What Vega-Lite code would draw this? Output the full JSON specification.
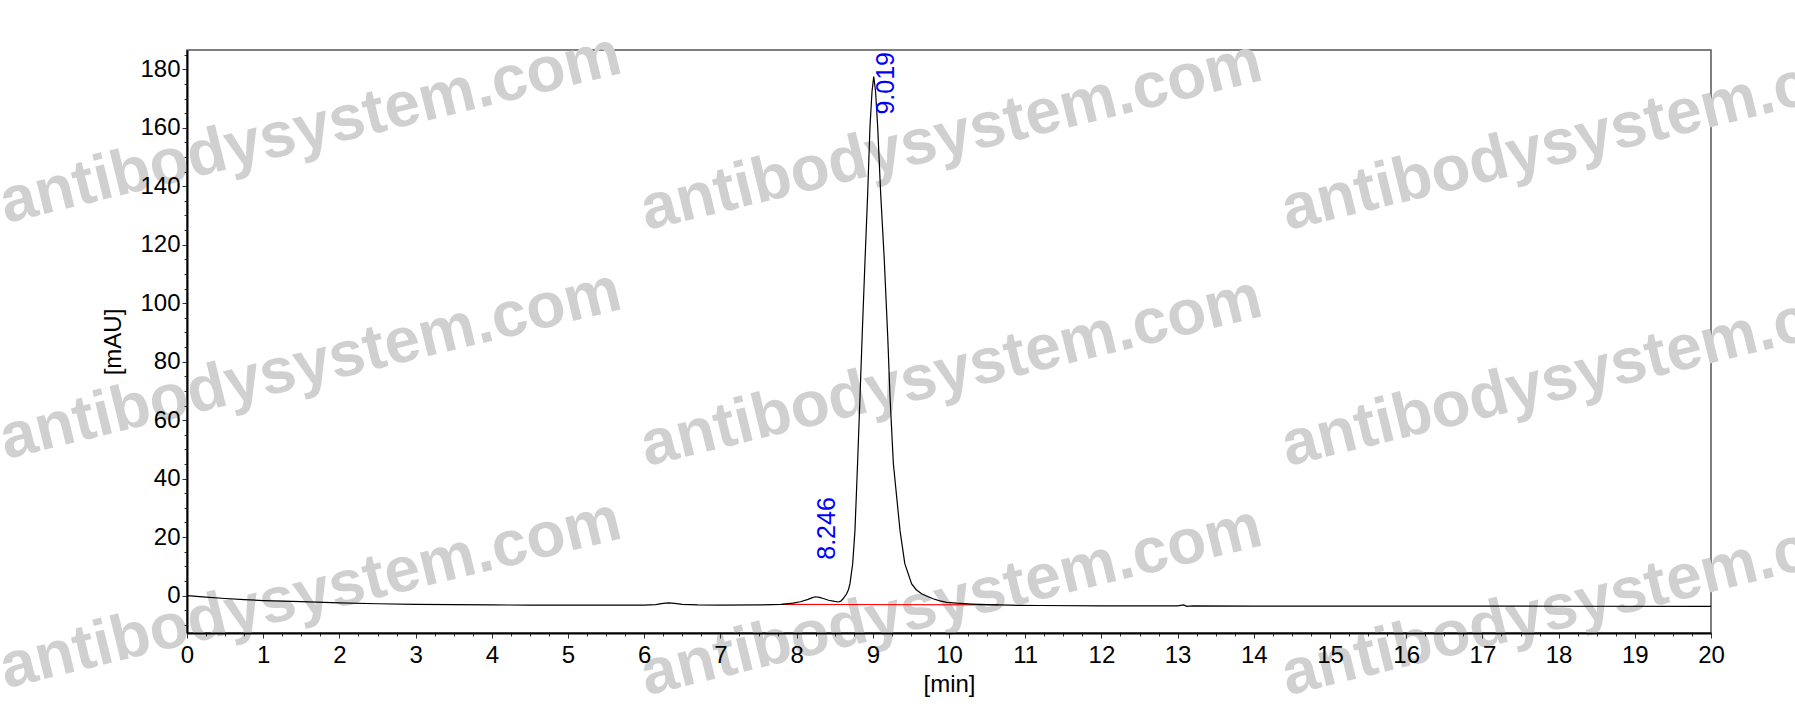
{
  "$schema": "https://vega.github.io/schema/vega-lite/v6.json",
  "width": 1524,
  "height": 583,
  "autosize": {"type": "none"},
  "padding": {"left": 187, "top": 50, "right": 84, "bottom": 93},
  "background": "white",
  "config": {
    "view": {"stroke": "#555555", "strokeWidth": 1.5},
    "font": "Liberation Sans",
    "axis": {
      "labelFont": "Liberation Sans",
      "titleFont": "Liberation Sans",
      "labelFontSize": 24,
      "titleFontSize": 24,
      "titleFontWeight": "normal",
      "labelColor": "black",
      "titleColor": "black",
      "domainColor": "black",
      "domainWidth": 2,
      "tickColor": "#333333",
      "grid": false,
      "labelOverlap": false,
      "labelFlush": false
    }
  },
  "datasets": {
    "trace": [
      {"t": 0, "v": 0}, {"t": 0.25, "v": -0.5}, {"t": 0.5, "v": -1.0}, {"t": 0.75, "v": -1.4},
      {"t": 1, "v": -1.7}, {"t": 1.5, "v": -2.1}, {"t": 2, "v": -2.5}, {"t": 2.5, "v": -2.8},
      {"t": 3, "v": -3.0}, {"t": 3.5, "v": -3.1}, {"t": 4, "v": -3.2}, {"t": 4.5, "v": -3.25},
      {"t": 5, "v": -3.3}, {"t": 5.5, "v": -3.3}, {"t": 6.0, "v": -3.25}, {"t": 6.15, "v": -3.1},
      {"t": 6.25, "v": -2.7}, {"t": 6.32, "v": -2.5}, {"t": 6.4, "v": -2.7}, {"t": 6.5, "v": -3.0},
      {"t": 6.7, "v": -3.2}, {"t": 7.0, "v": -3.3}, {"t": 7.5, "v": -3.2}, {"t": 7.8, "v": -3.0},
      {"t": 7.95, "v": -2.6}, {"t": 8.05, "v": -2.1}, {"t": 8.15, "v": -1.3}, {"t": 8.2, "v": -0.8},
      {"t": 8.246, "v": -0.4}, {"t": 8.3, "v": -0.6}, {"t": 8.35, "v": -1.0}, {"t": 8.42, "v": -1.6},
      {"t": 8.5, "v": -2.0}, {"t": 8.547, "v": -2.2}, {"t": 8.58, "v": -1.9}, {"t": 8.61, "v": -1.1},
      {"t": 8.635, "v": -0.2}, {"t": 8.657, "v": 0.6}, {"t": 8.68, "v": 2.0}, {"t": 8.7, "v": 4.0},
      {"t": 8.736, "v": 10.9}, {"t": 8.766, "v": 22.3}, {"t": 8.8, "v": 45.1}, {"t": 8.832, "v": 67.9},
      {"t": 8.862, "v": 90.0}, {"t": 8.898, "v": 114.7}, {"t": 8.933, "v": 137.6}, {"t": 8.963, "v": 160.4},
      {"t": 8.99, "v": 172.5}, {"t": 9.012, "v": 177.5}, {"t": 9.036, "v": 172.5}, {"t": 9.064, "v": 160.4},
      {"t": 9.103, "v": 137.6}, {"t": 9.151, "v": 114.7}, {"t": 9.196, "v": 88.5}, {"t": 9.226, "v": 67.9},
      {"t": 9.27, "v": 45.1}, {"t": 9.357, "v": 22.3}, {"t": 9.42, "v": 10.9}, {"t": 9.51, "v": 4.0},
      {"t": 9.57, "v": 2.0}, {"t": 9.64, "v": 0.6}, {"t": 9.72, "v": -0.3}, {"t": 9.79, "v": -1.1},
      {"t": 9.88, "v": -1.8}, {"t": 9.97, "v": -2.3}, {"t": 10.1, "v": -2.6}, {"t": 10.3, "v": -2.9},
      {"t": 10.5, "v": -3.1}, {"t": 10.8, "v": -3.3}, {"t": 11.2, "v": -3.4}, {"t": 12, "v": -3.5},
      {"t": 13.0, "v": -3.5}, {"t": 13.08, "v": -3.2}, {"t": 13.12, "v": -3.7}, {"t": 13.2, "v": -3.55},
      {"t": 14, "v": -3.6}, {"t": 16, "v": -3.6}, {"t": 18, "v": -3.65}, {"t": 20, "v": -3.7}
    ],
    "baseline": [
      {"t": 7.8, "v": -3.0}, {"t": 8.547, "v": -3.05}, {"t": 10.65, "v": -3.2}
    ],
    "peaks": [
      {"t": 8.246, "v": -0.4, "label": "8.246"},
      {"t": 9.019, "v": 177.5, "label": "9.019"}
    ],
    "watermark": [
      {"t": 1.68, "v": 153.1, "label": "antibodysystem.com"},
      {"t": 10.09, "v": 150.7, "label": "antibodysystem.com"},
      {"t": 18.5, "v": 150.7, "label": "antibodysystem.com"},
      {"t": 1.68, "v": 72.4, "label": "antibodysystem.com"},
      {"t": 10.09, "v": 70.0, "label": "antibodysystem.com"},
      {"t": 18.5, "v": 70.0, "label": "antibodysystem.com"},
      {"t": 1.68, "v": -6.0, "label": "antibodysystem.com"},
      {"t": 10.09, "v": -8.4, "label": "antibodysystem.com"},
      {"t": 18.5, "v": -8.4, "label": "antibodysystem.com"}
    ]
  },
  "encoding": {
    "x": {
      "field": "t",
      "type": "quantitative",
      "scale": {"domain": [0, 20], "nice": false, "zero": false},
      "axis": {
        "orient": "bottom",
        "zindex": 2,
        "title": "[min]",
        "titlePadding": 5,
        "values": [0, 0.25, 0.5, 0.75, 1, 1.25, 1.5, 1.75, 2, 2.25, 2.5, 2.75, 3, 3.25, 3.5, 3.75, 4, 4.25, 4.5, 4.75, 5, 5.25, 5.5, 5.75, 6, 6.25, 6.5, 6.75, 7, 7.25, 7.5, 7.75, 8, 8.25, 8.5, 8.75, 9, 9.25, 9.5, 9.75, 10, 10.25, 10.5, 10.75, 11, 11.25, 11.5, 11.75, 12, 12.25, 12.5, 12.75, 13, 13.25, 13.5, 13.75, 14, 14.25, 14.5, 14.75, 15, 15.25, 15.5, 15.75, 16, 16.25, 16.5, 16.75, 17, 17.25, 17.5, 17.75, 18, 18.25, 18.5, 18.75, 19, 19.25, 19.5, 19.75, 20],
        "labelExpr": "datum.value % 1 === 0 ? '' + datum.value : ''",
        "tickSize": {"condition": {"test": "datum.value % 1 === 0", "value": 5}, "value": 3},
        "labelPadding": 5
      }
    },
    "y": {
      "field": "v",
      "type": "quantitative",
      "scale": {"domain": [-12.8, 186.6], "nice": false, "zero": false},
      "axis": {
        "orient": "left",
        "zindex": 2,
        "title": "[mAU]",
        "titlePadding": 14,
        "values": [-10, -5, 0, 5, 10, 15, 20, 25, 30, 35, 40, 45, 50, 55, 60, 65, 70, 75, 80, 85, 90, 95, 100, 105, 110, 115, 120, 125, 130, 135, 140, 145, 150, 155, 160, 165, 170, 175, 180, 185],
        "labelExpr": "datum.value % 20 === 0 ? '' + datum.value : ''",
        "tickSize": {"condition": {"test": "datum.value % 20 === 0", "value": 5}, "value": 3},
        "labelPadding": 2
      }
    }
  },
  "layer": [
    {
      "data": {"name": "watermark"},
      "mark": {
        "type": "text",
        "font": "Liberation Sans",
        "fontWeight": "bold",
        "fontSize": 64,
        "angle": 346.3,
        "align": "center",
        "baseline": "alphabetic",
        "color": "#d0d0d0",
        "zindex": 0
      },
      "encoding": {
        "text": {"field": "label"}
      }
    },
    {
      "data": {"name": "baseline"},
      "mark": {"type": "line", "color": "#ff0000", "strokeWidth": 1.2}
    },
    {
      "data": {"name": "trace"},
      "mark": {"type": "line", "color": "black", "strokeWidth": 1.2}
    },
    {
      "data": {"name": "peaks"},
      "transform": [{"filter": "datum.label === '8.246'"}],
      "mark": {
        "type": "text",
        "font": "Liberation Sans",
        "fontSize": 25,
        "angle": 270,
        "align": "left",
        "baseline": "top",
        "dx": 37,
        "color": "#0000ff"
      },
      "encoding": {
        "text": {"field": "label"}
      }
    },
    {
      "data": {"name": "peaks"},
      "transform": [{"filter": "datum.label === '9.019'"}],
      "mark": {
        "type": "text",
        "font": "Liberation Sans",
        "fontSize": 25,
        "angle": 270,
        "align": "left",
        "baseline": "top",
        "dx": -38,
        "color": "#0000ff"
      },
      "encoding": {
        "text": {"field": "label"}
      }
    }
  ]
}
